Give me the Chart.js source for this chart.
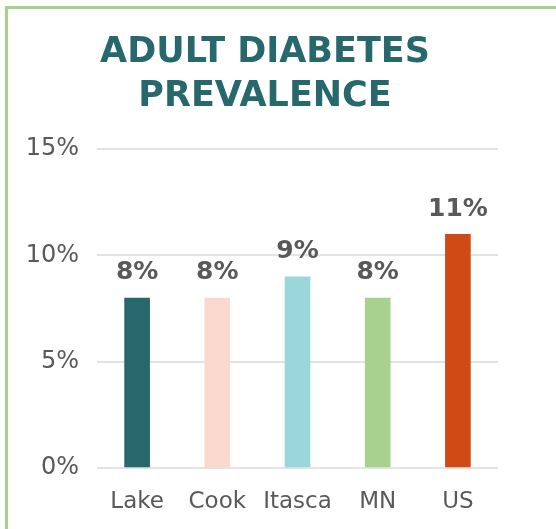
<!DOCTYPE html>
<html>
<head>
<meta charset="utf-8">
<script src="https://cdn.jsdelivr.net/npm/chart.js@4"></script>
<style>
    html, body { margin: 0; padding: 0; background: #fff; overflow: hidden; }
    #frame { position: absolute; left: 5px; top: 6px; width: 600px; height: 600px; border: 3px solid #a9d18e; }
    #wrap { position: absolute; left: 0; top: 0; width: 556px; height: 529px; }
</style>
</head>
<body>
<div id="frame"></div>
<div id="wrap"><canvas id="chart" width="556" height="529"></canvas></div>
<script>
const categories = ['Lake', 'Cook', 'Itasca', 'MN', 'US'];
const prevalence = [8, 8, 9, 8, 11];
const barColors = ['#26686c', '#f9d8cd', '#9bd7da', '#a9d18e', '#d04a16'];
const yTicks = [0, 5, 10, 15];

const font = "'DejaVu Sans', Verdana, sans-serif";
const grey = '#595959';

// draws the "8%" style labels above each bar
const barLabels = {
    id: 'barLabels',
    afterDatasetsDraw(chart) {
        const ctx = chart.ctx;
        const meta = chart.getDatasetMeta(0);
        ctx.save();
        ctx.font = 'bold 25px ' + font;
        ctx.fillStyle = grey;
        ctx.textAlign = 'center';
        ctx.textBaseline = 'middle';
        meta.data.forEach((bar, i) => {
            ctx.fillText(prevalence[i] + '%', bar.x, bar.y - 25);
        });
        ctx.restore();
    }
};

new Chart(document.getElementById('chart'), {
    type: 'bar',
    data: {
        labels: categories,
        datasets: [{
            data: prevalence,
            backgroundColor: barColors,
            barThickness: 25
        }]
    },
    options: {
        responsive: false,
        animation: false,
        layout: { padding: { left: 20, right: 46, top: 31, bottom: 14 } },
        plugins: {
            legend: { display: false },
            tooltip: { enabled: false },
            title: {
                display: true,
                text: ['ADULT DIABETES', 'PREVALENCE'],
                color: '#26686c',
                font: { family: font, size: 35, weight: 'bold', lineHeight: 1.26 },
                padding: { top: 0, bottom: 30 }
            }
        },
        scales: {
            x: {
                afterFit(scale) { scale.height = 47; },
                grid: { display: false, drawTicks: false },
                border: { display: false },
                ticks: { color: grey, font: { family: font, size: 23 }, padding: 20 }
            },
            y: {
                min: 0,
                max: 15,
                afterFit(scale) { scale.width = 77; },
                afterBuildTicks(scale) { scale.ticks = yTicks.map(v => ({ value: v })); },
                grid: { color: '#e3e3e3', lineWidth: 2, drawTicks: false },
                border: { display: false },
                ticks: {
                    color: grey,
                    padding: 18,
                    font: { family: font, size: 24 },
                    callback: v => v + '%'
                }
            },
            // empty right-hand spacer so the title sits where the original has it
            spacer: {
                type: 'linear',
                position: 'right',
                afterFit(scale) { scale.width = 12; },
                grid: { display: false },
                border: { display: false },
                ticks: { display: false }
            }
        }
    },
    plugins: [barLabels]
});
</script>
</body>
</html>
